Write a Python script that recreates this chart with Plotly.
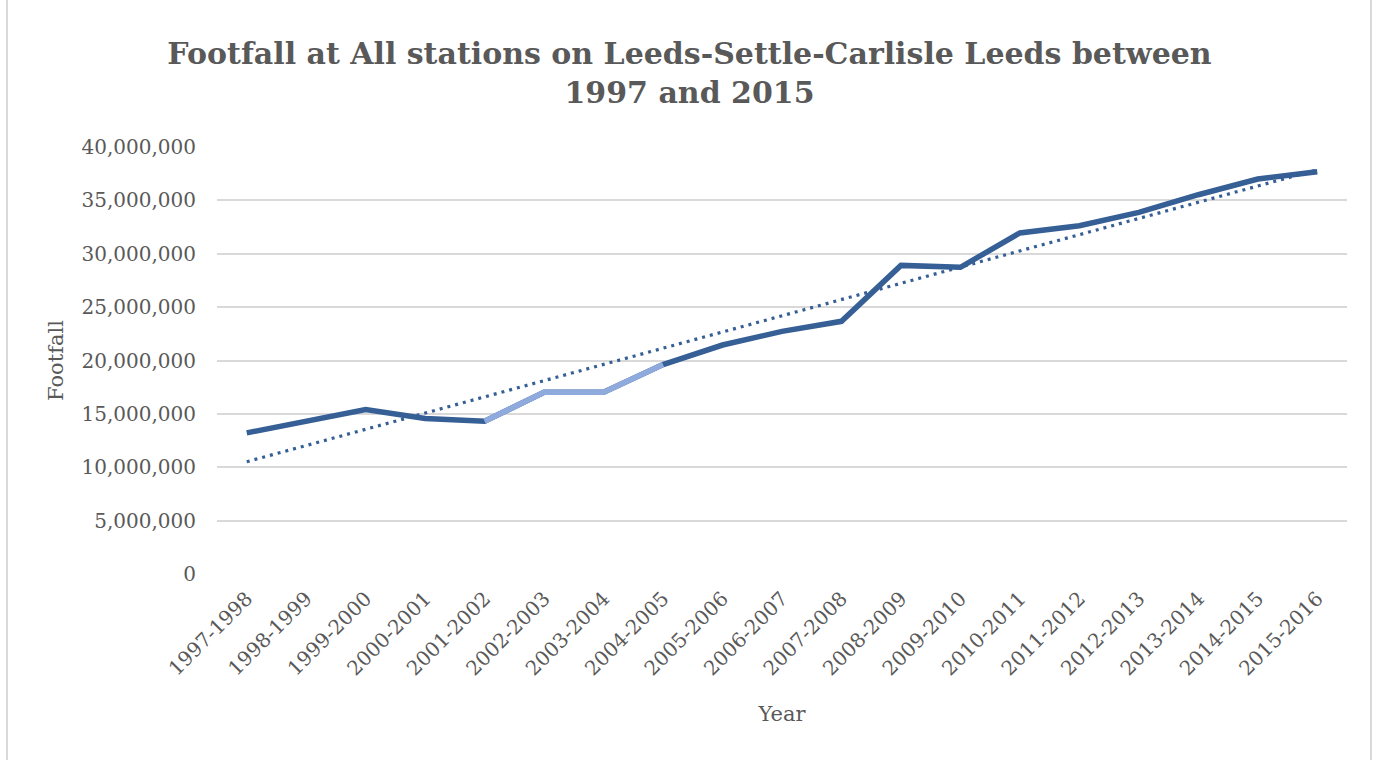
import numpy as np
import plotly.graph_objects as go

years = ["1997-1998", "1998-1999", "1999-2000", "2000-2001", "2001-2002",
         "2002-2003", "2003-2004", "2004-2005", "2005-2006", "2006-2007",
         "2007-2008", "2008-2009", "2009-2010", "2010-2011", "2011-2012",
         "2012-2013", "2013-2014", "2014-2015", "2015-2016"]
footfall = [13220000, 14300000, 15400000, 14560000, 14310000,
            17020000, 17020000, 19620000, 21450000, 22730000,
            23670000, 28910000, 28730000, 31950000, 32630000,
            33880000, 35530000, 37000000, 37690000]
highlight_years = ["2001-2002", "2002-2003", "2003-2004", "2004-2005"]

y_ticks = [0, 5000000, 10000000, 15000000, 20000000, 25000000, 30000000, 35000000, 40000000]
y_tick_text = ["0", "5,000,000", "10,000,000", "15,000,000", "20,000,000",
               "25,000,000", "30,000,000", "35,000,000", "40,000,000"]

DARK = "#355F95"
LIGHT = "#8FAADC"
TEXT = "#595959"
GRID = "#D9D9D9"
FONT = "DejaVu Serif"

# linear trend line (least squares fit of the series)
idx = np.arange(len(footfall))
slope, intercept = np.polyfit(idx, np.array(footfall, dtype=float), 1)
trend = list(slope * idx + intercept)

hl_vals = [v if y in highlight_years else None for y, v in zip(years, footfall)]

fig = go.Figure()
fig.add_trace(go.Scatter(x=years, y=footfall, mode="lines",
                         line=dict(color=DARK, width=5.5), showlegend=False))
fig.add_trace(go.Scatter(x=years, y=hl_vals, mode="lines",
                         line=dict(color=LIGHT, width=5.5), showlegend=False,
                         connectgaps=False))
fig.add_trace(go.Scatter(x=years, y=trend, mode="lines",
                         line=dict(color=DARK, width=3.2, dash="3px,5px"),
                         showlegend=False))

L, R, T, B = 217, 32, 147, 185.5
W, H = 1379, 760
pw = W - L - R

fig.update_layout(
    width=W, height=H,
    margin=dict(l=L, r=R, t=T, b=B, pad=0),
    paper_bgcolor="white", plot_bgcolor="white",
    title=dict(text="Footfall at All stations on Leeds-Settle-Carlisle Leeds between<br>1997 and 2015",
               x=0.5, xref="container", xanchor="center",
               y=1 - 63.5 / H, yref="container", yanchor="middle",
               font=dict(family=FONT, size=30, color=TEXT, weight="bold")),
    font=dict(family=FONT, color=TEXT, size=20),
    xaxis=dict(type="category", categoryorder="array", categoryarray=years,
               range=[-0.5, len(years) - 0.5],
               showgrid=False, zeroline=False, showline=False, ticks="",
               tickangle=-45, tickfont=dict(family=FONT, size=20, color=TEXT),
               ticklabelstandoff=8,
               title=dict(text="Year", font=dict(family=FONT, size=21, color=TEXT), standoff=26)),
    yaxis=dict(range=[0, 40000000], tickvals=y_ticks, ticktext=y_tick_text,
               showgrid=True, gridcolor=GRID, gridwidth=2,
               zeroline=False, showline=False, ticks="",
               tickfont=dict(family=FONT, size=20, color=TEXT),
               ticklabelstandoff=20,
               title=dict(text="Footfall", font=dict(family=FONT, size=21, color=TEXT), standoff=12)),
    shapes=[
        dict(type="line", xref="paper", yref="paper",
             x0=(7 - L) / pw, x1=(7 - L) / pw, y0=-2, y1=3,
             line=dict(color=GRID, width=2)),
        dict(type="line", xref="paper", yref="paper",
             x0=(1371 - L) / pw, x1=(1371 - L) / pw, y0=-2, y1=3,
             line=dict(color=GRID, width=2)),
    ],
)

fig.write_html("out.html")
